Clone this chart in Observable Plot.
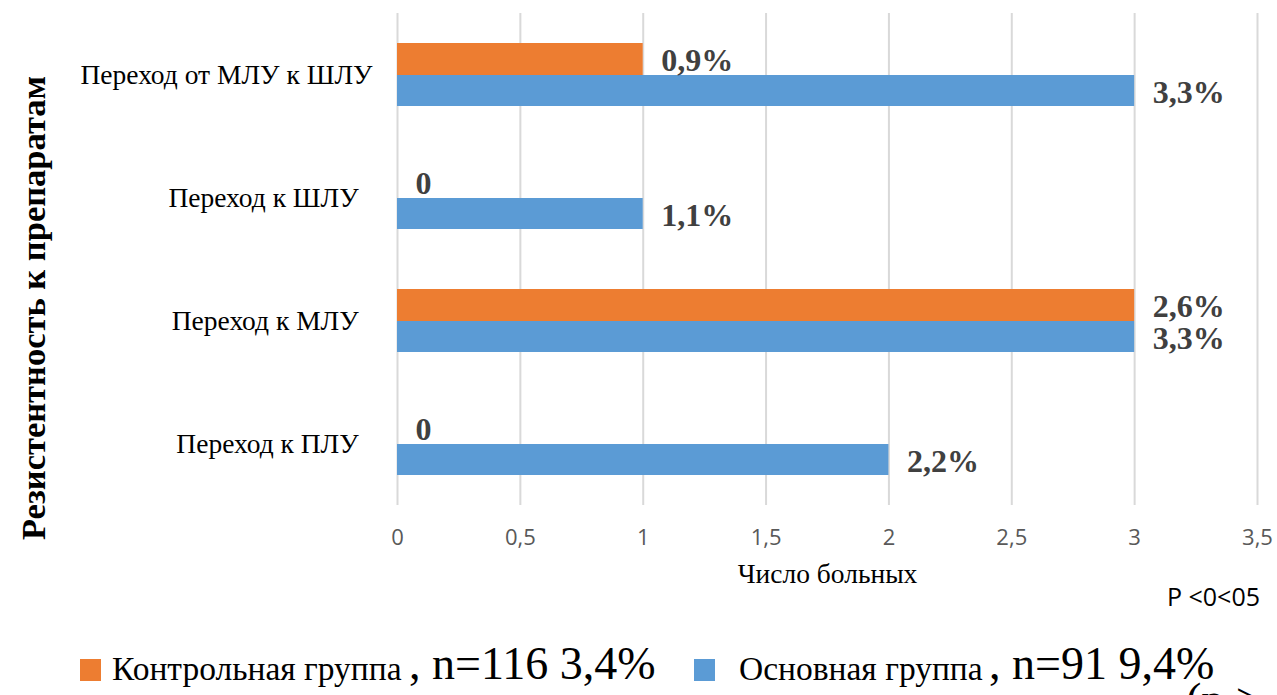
<!DOCTYPE html>
<html>
<head>
<meta charset="utf-8">
<script src="https://cdn.jsdelivr.net/npm/d3@7"></script>
<script src="https://cdn.jsdelivr.net/npm/@observablehq/plot@0.6"></script>
<style>
  html, body { margin: 0; padding: 0; background: white; }
  #wrap { position: relative; width: 1277px; height: 695px; overflow: hidden; background: white; }
  #chart { position: absolute; left: 0; top: 0; }
  .abs { position: absolute; white-space: nowrap; line-height: 1; }
  .serif { font-family: "Liberation Serif", "Times New Roman", serif; color: #000; }
  .sq { position: absolute; width: 21px; height: 22px; }
</style>
</head>
<body>
<div id="wrap">
  <div id="chart"></div>
  <div class="abs serif" id="ytitle" style="left:33px; top:308px; font-size:34.5px; font-weight:bold; transform: translate(-50%,-50%) rotate(-90deg);">Резистентность к препаратам</div>
  <div class="abs" style="left:1167px; top:584px; font-size:25px; font-family:'Open Sans', sans-serif; color:#000;">P &lt;0&lt;05</div>
  <div class="sq" style="left:80px; top:659px; background:#ED7D31;"></div>
  <div class="abs serif" style="left:112px; top:652px; font-size:33.5px;">Контрольная группа</div>
  <div class="abs serif" style="left:409px; top:641px; font-size:46px;">, n=116 3,4%</div>
  <div class="sq" style="left:694px; top:659px; background:#5B9BD5;"></div>
  <div class="abs serif" style="left:739px; top:652px; font-size:33.5px;">Основная группа</div>
  <div class="abs serif" style="left:989px; top:641px; font-size:46px;">, n=91 9,4%</div>
  <div class="abs serif" style="left:1186px; top:677px; font-size:46px;">(p &gt;</div>
</div>
<script>
const categories = ["Переход от МЛУ к ШЛУ", "Переход к ШЛУ", "Переход к МЛУ", "Переход к ПЛУ"];
const controlValues = [1, 0, 3, 0];
const mainValues = [3, 1, 3, 2];
const controlLabels = ["0,9%", "0", "2,6%", "0"];
const mainLabels = ["3,3%", "1,1%", "3,3%", "2,2%"];
const xTicks = [0, 0.5, 1, 1.5, 2, 2.5, 3, 3.5];
const xTickLabels = ["0", "0,5", "1", "1,5", "2", "2,5", "3", "3,5"];

const control = categories.map((c, i) => ({category: c, value: controlValues[i], label: controlLabels[i]}));
const main = categories.map((c, i) => ({category: c, value: mainValues[i], label: mainLabels[i]}));

const serif = "Liberation Serif, Times New Roman, serif";
const labelStyle = {textAnchor: "start", dx: 18, fontSize: 32, fontWeight: "bold", fontFamily: serif, fill: "#404040"};

const chart = Plot.plot({
  width: 1277,
  height: 610,
  marginLeft: 397,
  marginRight: 20,
  marginTop: 13,
  marginBottom: 105,
  style: {background: "white", overflow: "visible"},
  x: {domain: [0, 3.5]},
  y: {domain: categories, padding: 0},
  marks: [
    Plot.gridX(xTicks, {stroke: "#d9d9d9", strokeOpacity: 1, strokeWidth: 2}),
    Plot.barX(control, {x: "value", y: "category", fill: "#ED7D31", insetTop: 30, insetBottom: 61}),
    Plot.barX(main, {x: "value", y: "category", fill: "#5B9BD5", insetTop: 62, insetBottom: 30}),
    Plot.text(control, {x: "value", y: "category", text: "label", dy: -14, ...labelStyle}),
    Plot.text(main, {x: "value", y: "category", text: "label", dy: 18, ...labelStyle}),
    Plot.axisX({ticks: xTicks, tickFormat: d => xTickLabels[xTicks.indexOf(d)], tickSize: 0, tickPadding: 24, fontSize: 22, fontFamily: "Open Sans, sans-serif", fill: "#595959", label: null}),
    Plot.axisY({tickSize: 0, tickPadding: 25, fontSize: 27.5, fontFamily: serif, fill: "black", label: null,
      tickFormat: d => d === categories[0] ? d : d + "\u00a0\u00a0"}),
    Plot.text(["Число больных"], {frameAnchor: "bottom", dy: 77, fontSize: 27.5, fontFamily: serif, fill: "black"})
  ]
});
document.getElementById("chart").appendChild(chart);
</script>
</body>
</html>
